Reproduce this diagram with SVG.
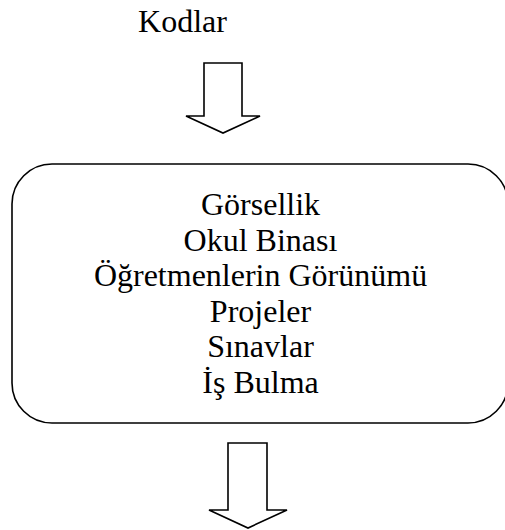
<svg xmlns="http://www.w3.org/2000/svg" width="505" height="530" viewBox="0 0 505 530">
  <style>
    .label { font-family: "Liberation Serif", "Times New Roman", serif; font-size: 32px; fill: #000; text-anchor: middle; }
    .shape { fill: #fff; stroke: #000; stroke-width: 1.6; stroke-linejoin: miter; }
  </style>
  <rect width="505" height="530" fill="#fff"/>

  <g id="kodlar">
    <text class="label" x="182.5" y="32">Kodlar</text>
  </g>

  <g id="connectors">
    <!-- block arrow from Kodlar into the box -->
    <path class="shape" d="M204,63 H242 V116 H260 L223,133 L186,116 H204 Z"/>
    <!-- block arrow leaving the box -->
    <path class="shape" d="M228,443 H267 V510 H287 L248,528 L209,510 H228 Z"/>
  </g>

  <g id="themes">
    <rect class="shape" x="12" y="164" width="496" height="259" rx="40" ry="40"/>
    <text class="label" x="260.5" y="215">Görsellik</text>
    <text class="label" x="260.5" y="250.5">Okul Binası</text>
    <text class="label" x="260.5" y="286">Öğretmenlerin Görünümü</text>
    <text class="label" x="260.5" y="321.5">Projeler</text>
    <text class="label" x="260.5" y="357">Sınavlar</text>
    <text class="label" x="260.5" y="392.5">İş Bulma</text>
  </g>
</svg>
